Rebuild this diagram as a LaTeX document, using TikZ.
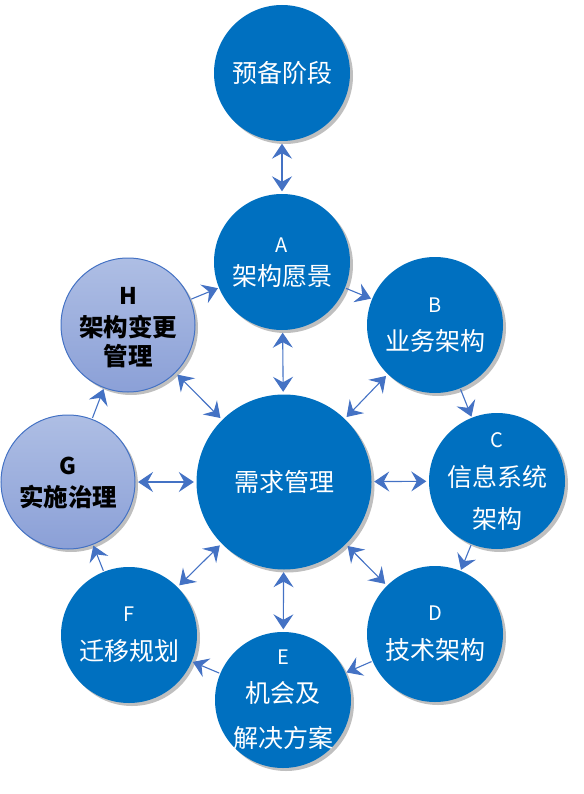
\documentclass[tikz,border=0pt]{standalone}
\usepackage{fontspec}
\newfontfamily\cjk{Noto Sans CJK SC}
\usetikzlibrary{arrows.meta,shadows}
\definecolor{myblue}{HTML}{0070C0}
\definecolor{arblue}{HTML}{4472C4}
\definecolor{gtop}{HTML}{AEBEE4}
\definecolor{gbot}{HTML}{8BA0D7}
\tikzset{
  shad/.style={drop shadow={shadow xshift=3pt,shadow yshift=-3pt,opacity=0.25,fill=black}},
  bluec/.style={circle,fill=myblue,minimum size=136pt,inner sep=0pt,shad},
  bigc/.style={circle,fill=myblue,minimum size=175pt,inner sep=0pt,shad},
  gradc/.style={circle,draw=arblue,line width=1pt,top color=gtop,bottom color=gbot,minimum size=134pt,inner sep=0pt,shad},
  wt/.style={text=white,font=\cjk\fontsize{25}{28}\selectfont,inner sep=0pt},
  wl/.style={text=white,font=\cjk\fontsize{20}{24}\selectfont,inner sep=0pt},
  bt/.style={text=black,font=\cjk\bfseries\fontsize{24.5}{28}\selectfont,inner sep=0pt},
  bl/.style={text=black,font=\cjk\bfseries\fontsize{23}{26}\selectfont,inner sep=0pt},
  tipst/.style={arblue,line width=1.1pt},
  one/.style={tipst,-{Stealth[length=15pt,width=20pt,inset=5.5pt]},shorten <=1pt,shorten >=1pt},
  two/.style={tipst,{Stealth[length=15pt,width=20pt,inset=5.5pt]}-{Stealth[length=15pt,width=20pt,inset=5.5pt]},shorten <=2.5pt,shorten >=2.5pt},
}
\begin{document}
\begin{tikzpicture}[x=1pt,y=-1pt]
\useasboundingbox (0,0) rectangle (583,794);
% circles
\node[bluec] (pre) at (282,73) {};
\node[bluec] (A) at (282,262) {};
\node[bluec] (B) at (435,325) {};
\node[bluec] (C) at (497,481) {};
\node[bluec] (D) at (435,634) {};
\node[bluec] (E) at (283,700) {};
\node[bluec] (F) at (129,635) {};
\node[gradc] (G) at (68,482) {};
\node[gradc] (H) at (128,325) {};
\node[bigc] (M) at (284,482) {};
% texts
\node[wt] (pre-t) at (282,73) {预备阶段};
\node[wl] (A-l) at (282,245) {A};
\node[wt] (A-t) at (282,276) {架构愿景};
\node[wl] (B-l) at (435,305) {B};
\node[wt] (B-t) at (435,341) {业务架构};
\node[wl] (C-l) at (497,440) {C};
\node[wt] (C-t1) at (497,477) {信息系统};
\node[wt] (C-t2) at (497,519) {架构};
\node[wl] (D-l) at (435,613) {D};
\node[wt] (D-t) at (435,650) {技术架构};
\node[wl] (E-l) at (283,657) {E};
\node[wt] (E-t1) at (283,693) {机会及};
\node[wt] (E-t2) at (283,738) {解决方案};
\node[wl] (F-l) at (129,614) {F};
\node[wt] (F-t) at (129,651) {迁移规划};
\node[bl] (G-l) at (68,466) {G};
\node[bt] (G-t) at (68,497) {实施治理};
\node[bl] (H-l) at (128,296) {H};
\node[bt] (H-t1) at (128,327) {架构变更};
\node[bt] (H-t2) at (128,356) {管理};
\node[wt] (M-t) at (284,482) {需求管理};
% connectors
\draw[two] (pre) -- (A);
\draw[two] (A) -- (M);
\draw[two] (M) -- (B);
\draw[two] (M) -- (C);
\draw[two] (M) -- (D);
\draw[two] (M) -- (E);
\draw[two] (M) -- (F);
\draw[two] (M) -- (G);
\draw[two] (M) -- (H);
\draw[one] (A) -- (B);
\draw[one] (B) -- (C);
\draw[one] (C) -- (D);
\draw[one] (D) -- (E);
\draw[one] (E) -- (F);
\draw[one] (F) -- (G);
\draw[one] (G) -- (H);
\draw[one] (H) -- (A);
\end{tikzpicture}
\end{document}
